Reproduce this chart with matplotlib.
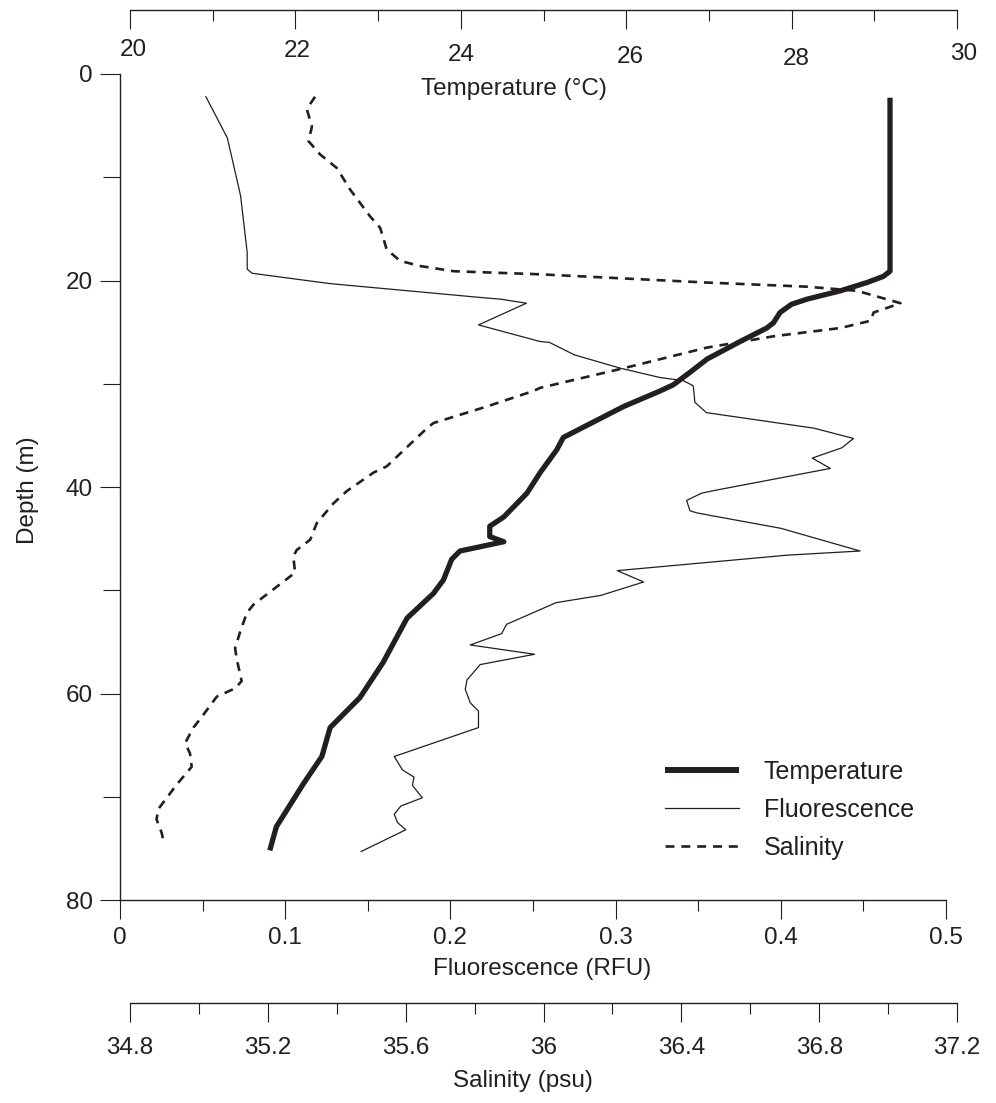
import matplotlib
matplotlib.use("Agg")
import matplotlib.pyplot as plt
from matplotlib.ticker import MultipleLocator, FuncFormatter

plt.rcParams['font.family'] = ['Liberation Sans', 'DejaVu Sans']

# profile data (depth in m)
temp_depth = [2.3, 19.1, 19.6, 20.2, 21.0, 21.8, 22.3, 23.1, 24.1, 24.6, 25.9, 27.6, 28.9,
              30.1, 30.7, 32.2, 35.2, 36.4, 38.6, 40.6, 42.9, 43.8, 44.8, 45.3, 46.2, 47.0,
              49.0, 50.3, 52.7, 57.0, 60.4, 63.3, 66.1, 68.7, 72.9, 75.2]
temp_val = [29.19, 29.19, 29.11, 28.91, 28.59, 28.19, 28.00, 27.86, 27.78, 27.70, 27.38, 26.98,
            26.77, 26.57, 26.41, 25.97, 25.24, 25.16, 24.96, 24.80, 24.52, 24.35, 24.35, 24.52,
            23.99, 23.89, 23.79, 23.67, 23.35, 23.06, 22.78, 22.42, 22.32, 22.10, 21.77, 21.69]

fluor_depth = [2.2, 6.2, 11.8, 17.3, 18.9, 19.3, 20.3, 21.7, 21.8, 22.2, 24.3, 25.9, 26.0,
               27.2, 28.5, 29.4, 29.7, 30.2, 31.8, 32.8, 34.3, 35.3, 36.2, 37.2, 38.2, 40.3,
               40.6, 41.3, 42.3, 42.5, 42.8, 44.0, 46.2, 46.6, 48.1, 49.2, 50.5, 51.2, 51.9,
               53.3, 54.2, 55.3, 56.2, 57.2, 58.7, 59.6, 60.9, 61.7, 63.3, 66.1, 67.4, 68.1,
               68.9, 70.1, 70.9, 71.7, 72.5, 73.2, 75.3]
fluor_val = [0.052, 0.065, 0.073, 0.077, 0.077, 0.080, 0.127, 0.222, 0.230, 0.246, 0.217, 0.254,
             0.260, 0.275, 0.303, 0.327, 0.341, 0.347, 0.348, 0.355, 0.420, 0.444, 0.437, 0.419,
             0.430, 0.361, 0.352, 0.343, 0.345, 0.349, 0.359, 0.400, 0.448, 0.404, 0.301, 0.317,
             0.291, 0.264, 0.254, 0.234, 0.231, 0.212, 0.251, 0.218, 0.210, 0.209, 0.212, 0.217,
             0.217, 0.166, 0.171, 0.178, 0.177, 0.183, 0.170, 0.166, 0.168, 0.173, 0.146]

sal_depth = [2.2, 3.4, 5.1, 6.5, 7.8, 9.1, 11.2, 13.8, 14.9, 17.0, 18.1, 18.6, 19.1, 19.4,
             20.2, 20.6, 21.0, 22.2, 23.1, 23.9, 24.6, 25.4, 26.5, 28.5, 30.4, 30.7, 32.2,
             33.8, 34.3, 38.0, 38.6, 40.4, 41.6, 43.5, 45.1, 46.1, 46.7, 48.3, 51.4, 52.2,
             54.1, 55.6, 56.7, 58.8, 59.5, 60.3, 61.2, 62.5, 63.3, 64.8, 65.8, 67.1, 68.8,
             71.2, 72.2, 73.5, 74.3]
sal_val = [35.337, 35.313, 35.328, 35.318, 35.352, 35.400, 35.439, 35.497, 35.526, 35.545,
           35.584, 35.642, 35.739, 35.990, 36.474, 36.765, 36.910, 37.036, 36.958, 36.949,
           36.862, 36.668, 36.474, 36.232, 35.990, 35.971, 35.836, 35.681, 35.662, 35.545,
           35.507, 35.429, 35.390, 35.342, 35.323, 35.284, 35.274, 35.279, 35.158, 35.139,
           35.119, 35.105, 35.110, 35.124, 35.105, 35.052, 35.032, 35.003, 34.984, 34.960,
           34.974, 34.979, 34.936, 34.882, 34.877, 34.892, 34.897]

# temperature tick labels sit a little unevenly in the original (offsets in px)
temp_ticks = [20, 22, 24, 26, 28, 30]
temp_lab_dx = [3, 2, 0, 4, 5, 7]
temp_lab_dy = [40, 41, 45, 47, 49, 44]

ink = '#231f20'
fs = 17.5
W, H = 996, 1103
PT = 0.72  # points per pixel at dpi 100


def rect(x0, x1, y0, y1):
    return [x0 / W, 1 - y1 / H, (x1 - x0) / W, (y1 - y0) / H]


fmt = FuncFormatter(lambda v, p: '%g' % round(v, 3))

fig = plt.figure(figsize=(W / 100, H / 100), dpi=100)
ax = fig.add_axes(rect(120, 946, 74, 900))
tax = fig.add_axes(rect(130, 957, 74, 900), sharey=ax)
sax = fig.add_axes(rect(130, 957, 74, 900), sharey=ax)

# fluorescence / depth axes
ax.set_xlim(0, 0.5)
ax.set_ylim(80, 0)
for s in ['top', 'right']:
    ax.spines[s].set_visible(False)
ax.xaxis.set_major_locator(MultipleLocator(0.1))
ax.xaxis.set_minor_locator(MultipleLocator(0.05))
ax.yaxis.set_major_locator(MultipleLocator(20))
ax.yaxis.set_minor_locator(MultipleLocator(10))
ax.xaxis.set_major_formatter(fmt)
ax.tick_params(axis='x', which='major', length=13.7, width=0.8, pad=6, labelsize=fs, colors=ink)
ax.tick_params(axis='x', which='minor', length=8, width=0.8, colors=ink)
ax.tick_params(axis='y', which='major', length=14.4, width=0.8, pad=5, labelsize=fs, colors=ink)
ax.tick_params(axis='y', which='minor', length=12, width=0.8, colors=ink)
ax.set_xlabel('Fluorescence (RFU)', fontsize=fs, color=ink)
ax.xaxis.set_label_coords((542 - 120) / 826, -(958 - 900) / 826)
ax.set_ylabel('Depth (m)', fontsize=fs, color=ink)
ax.yaxis.set_label_coords((39 - 120) / 826, 1 - (490 - 74) / 826)

# temperature axis (drawn at the top)
spine_y = 1 + 64 / 826
tax.set_xlim(20, 30)
tax.patch.set_visible(False)
for s in ['top', 'right', 'left']:
    tax.spines[s].set_visible(False)
tax.spines['bottom'].set_position(('axes', spine_y))
tax.yaxis.set_visible(False)
tax.xaxis.set_major_locator(MultipleLocator(2))
tax.xaxis.set_minor_locator(MultipleLocator(1))
tax.tick_params(axis='x', which='major', length=13.7, width=0.8, labelbottom=False, colors=ink)
tax.tick_params(axis='x', which='minor', length=8, width=0.8, colors=ink)
for v, dx, dy in zip(temp_ticks, temp_lab_dx, temp_lab_dy):
    tax.annotate('%g' % v, xy=(v, spine_y), xycoords=('data', 'axes fraction'),
                 xytext=(dx * PT, -dy * PT), textcoords='offset points',
                 ha='center', va='center', fontsize=fs, color=ink, annotation_clip=False)
tax.set_xlabel('Temperature (°C)', fontsize=fs, color=ink)
tax.xaxis.set_label_coords((514 - 130) / 827, 1 - (78 - 74) / 826)

# salinity axis (drawn at the bottom)
sax.set_xlim(34.8, 37.2)
sax.patch.set_visible(False)
for s in ['top', 'right', 'left']:
    sax.spines[s].set_visible(False)
sax.spines['bottom'].set_position(('axes', -(1003 - 900) / 826))
sax.yaxis.set_visible(False)
sax.xaxis.set_major_locator(MultipleLocator(0.4))
sax.xaxis.set_minor_locator(MultipleLocator(0.2))
sax.xaxis.set_major_formatter(fmt)
sax.tick_params(axis='x', which='major', length=13.7, width=0.8, pad=11, labelsize=fs, colors=ink)
sax.tick_params(axis='x', which='minor', length=8, width=0.8, colors=ink)
sax.set_xlabel('Salinity (psu)', fontsize=fs, color=ink)
sax.xaxis.set_label_coords((523 - 130) / 827, -(1070 - 900) / 826)

for a in [ax, tax, sax]:
    for sp in a.spines.values():
        sp.set_linewidth(1.0)
        sp.set_color(ink)

# profiles
fl, = ax.plot(fluor_val, fluor_depth, color=ink, lw=0.9, label='Fluorescence')
sl, = sax.plot(sal_val, sal_depth, color=ink, lw=1.9, ls=(0, (3.4, 2.6)), label='Salinity')
tl, = tax.plot(temp_val, temp_depth, color=ink, lw=3.8, solid_joinstyle='round',
               solid_capstyle='butt', label='Temperature')

leg = ax.legend([tl, fl, sl], ['Temperature', 'Fluorescence', 'Salinity'],
                loc='upper left', bbox_to_anchor=(665 / W, 1 - 760 / H),
                bbox_transform=fig.transFigure, frameon=False, borderpad=0,
                borderaxespad=0, handlelength=2.95, handletextpad=1.0,
                labelspacing=0.56, fontsize=18)
for t in leg.get_texts():
    t.set_color(ink)
leg.get_lines()[0].set_linewidth(4.3)

fig.savefig('out.png', dpi=100)
